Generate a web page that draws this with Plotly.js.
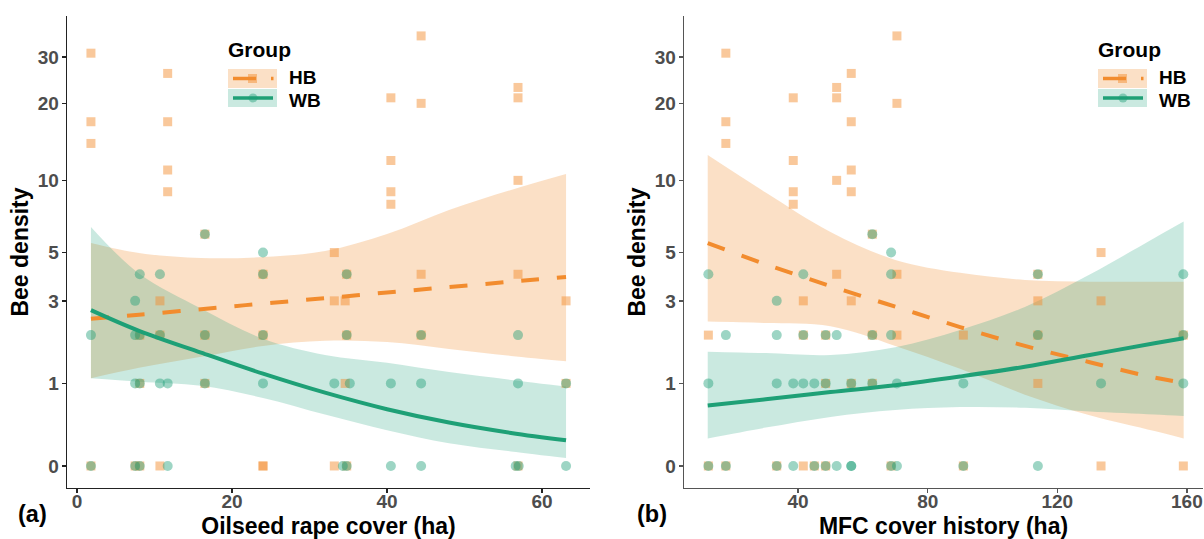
<!DOCTYPE html>
<html><head><meta charset="utf-8">
<script src="https://cdn.plot.ly/plotly-3.0.1.min.js"></script>
<style>html,body{margin:0;padding:0;background:#fff;} #chart{width:1204px;height:539px;}</style>
</head><body><div id="chart"></div>
<script>
// ---------- DATA ----------
const groups = ["HB", "WB"];
const yTickValues = [0, 1, 3, 5, 10, 20, 30];
const yTickLabels = ["0", "1", "3", "5", "10", "20", "30"];
const xTicksA = [0, 20, 40, 60];
const xTicksB = [40, 80, 120, 160];
const xTitleA = "Oilseed rape cover (ha)";
const xTitleB = "MFC cover history (ha)";
const yTitle = "Bee density";

// Panel (a) observations
const hbA_x = [1.8,1.8,1.8,1.8, 7.5, 8.1,8.1,8.1, 10.7,10.7,10.7, 11.7,11.7,11.7,11.7, 16.5,16.5,16.5, 24,24,24,24, 33.2,33.2,33.2, 34.6,34.6, 34.8,34.8,34.8, 40.5,40.5,40.5,40.5, 44.4,44.4,44.4,44.4, 56.9,56.9,56.9,56.9,56.9, 63.1,63.1];
const hbA_y = [31,17,14,0, 0, 2,1,0, 3,2,0, 26,17,11,9, 6,2,1, 4,2,0,0, 5,3,0, 3,1, 4,2,0, 21,12,9,8, 36,20,4,2, 23,21,10,4,0, 3,1];
const wbA_x = [1.8,1.8, 7.5,7.5,7.5,7.5, 8.1,8.1,8.1,8.1, 10.7,10.7,10.7, 11.7,11.7, 16.5,16.5,16.5, 24,24,24,24, 33.2, 34.3, 34.8,34.8,34.8, 35.2, 40.5,40.5, 44.4,44.4,44.4, 56.6, 56.9,56.9, 57.0, 63.1,63.1];
const wbA_y = [2,0, 3,2,1,0, 4,2,1,0, 4,2,1, 1,0, 6,2,1, 5,4,2,1, 1, 0, 4,2,0, 1, 1,0, 2,1,0, 0, 2,1, 0, 1,0];

// Panel (b) observations
const hbB_x = [12.3,12.3, 17.7,17.7,17.7,17.7, 33.4, 38.5,38.5,38.5,38.5, 41.6,41.6,41.6, 45, 48.5,48.5,48.5, 51.9,51.9,51.9,51.9, 56.4,56.4,56.4,56.4,56.4,56.4, 62.9,62.9,62.9, 68.7, 70.5,70.5,70.5,70.5, 91,91, 114,114,114,114, 133.5,133.5,133.5, 158.9,158.9];
const hbB_y = [2,0, 31,17,14,0, 0, 21,12,9,8, 3,2,0, 0, 2,1,0, 23,21,10,4, 26,17,11,9,3,1, 6,2,1, 0, 36,20,4,2, 2,0, 4,3,2,1, 5,3,0, 2,0];
const wbB_x = [12.3,12.3,12.3, 17.7,17.7, 33.4,33.4,33.4,33.4, 38.5,38.5, 41.6,41.6,41.6, 45,45, 48.5,48.5,48.5, 51.9,51.9, 56.4,56.4,56.4, 62.9,62.9,62.9, 68.7,68.7,68.7,68.7, 70.5,70.5, 91,91, 114,114,114, 133.5, 158.9,158.9,158.9];
const wbB_y = [4,1,0, 2,0, 3,2,1,0, 1,0, 4,2,1, 1,0, 2,1,0, 2,0, 1,0,0, 6,2,1, 5,4,2,0, 1,0, 1,0, 4,2,0, 1, 4,2,1];

// Panel (a) model fits (predicted density and 95% band)
const fitA_x   = [1.8, 8, 16, 24, 32, 40, 48, 56, 63.1];
const hbA_fit  = [2.44, 2.56, 2.73, 2.91, 3.09, 3.29, 3.49, 3.70, 3.89];
const hbA_hi   = [5.50, 4.98, 4.73, 4.78, 5.08, 6.01, 7.58, 9.15, 10.6];
const hbA_lo   = [1.09, 1.28, 1.50, 1.74, 1.86, 1.83, 1.67, 1.52, 1.41];
const wbA_fit  = [2.70, 2.11, 1.59, 1.17, 0.85, 0.61, 0.44, 0.32, 0.24];
const wbA_hi   = [6.44, 4.03, 2.75, 1.91, 1.54, 1.38, 1.20, 1.06, 0.95];
const wbA_lo   = [1.09, 1.03, 0.96, 0.77, 0.54, 0.35, 0.21, 0.13, 0.07];

// Panel (b) model fits
const fitB_x   = [12.1, 30, 50, 70, 90, 110, 130, 150, 159];
const hbB_fit  = [5.49, 4.44, 3.53, 2.81, 2.21, 1.74, 1.39, 1.10, 1.01];
const hbB_hi   = [12.6, 8.93, 6.13, 4.64, 4.06, 3.77, 3.70, 3.70, 3.70];
const hbB_lo   = [2.36, 2.32, 2.23, 1.74, 1.26, 0.82, 0.53, 0.34, 0.26];
const wbB_fit  = [0.66, 0.75, 0.86, 0.97, 1.12, 1.30, 1.54, 1.80, 1.92];
const wbB_hi   = [1.61, 1.58, 1.54, 1.71, 2.13, 2.80, 3.99, 5.78, 6.78];
const wbB_lo   = [0.26, 0.38, 0.51, 0.60, 0.64, 0.63, 0.58, 0.54, 0.52];

// ---------- STYLE ----------
const ORANGE = "rgb(242,140,46)";
const GREEN = "rgb(30,160,118)";
const ORANGE_FILL = "rgba(242,140,46,0.27)";
const GREEN_FILL = "rgba(27,158,119,0.23)";
const ORANGE_PT = "rgba(242,140,46,0.48)";
const GREEN_PT = "rgba(27,158,119,0.43)";
const FONT = "Liberation Sans, Arial, sans-serif";

const T = arr => arr.map(v => Math.log1p(v));

function panel(xa, ya, hb_x, hb_y, wb_x, wb_y, fx, hfit, hhi, hlo, wfit, whi, wlo) {
  const base = {xaxis: xa, yaxis: ya, showlegend: false, hoverinfo: "skip", type: "scatter"};
  const mk = o => Object.assign({}, base, o);
  return [
    mk({x: fx, y: T(hlo), mode: "lines", line: {width: 0, shape: "spline"}}),
    mk({x: fx, y: T(hhi), mode: "lines", line: {width: 0, shape: "spline"}, fill: "tonexty", fillcolor: ORANGE_FILL}),
    mk({x: fx, y: T(wlo), mode: "lines", line: {width: 0, shape: "spline"}}),
    mk({x: fx, y: T(whi), mode: "lines", line: {width: 0, shape: "spline"}, fill: "tonexty", fillcolor: GREEN_FILL}),
    mk({x: hb_x, y: T(hb_y), mode: "markers", name: groups[0], marker: {symbol: "square", size: 9, color: ORANGE_PT, line: {width: 0}}}),
    mk({x: wb_x, y: T(wb_y), mode: "markers", name: groups[1], marker: {symbol: "circle", size: 10, color: GREEN_PT, line: {width: 0}}}),
    mk({x: fx, y: T(hfit), mode: "lines", line: {color: ORANGE, width: 4, dash: "18px,18px", shape: "spline"}}),
    mk({x: fx, y: T(wfit), mode: "lines", line: {color: GREEN, width: 4, shape: "spline"}})
  ];
}

const traces = [].concat(
  panel("x", "y", hbA_x, hbA_y, wbA_x, wbA_y, fitA_x, hbA_fit, hbA_hi, hbA_lo, wbA_fit, wbA_hi, wbA_lo),
  panel("x2", "y2", hbB_x, hbB_y, wbB_x, wbB_y, fitB_x, hbB_fit, hbB_hi, hbB_lo, wbB_fit, wbB_hi, wbB_lo)
);

// ---------- LAYOUT ----------
const W = 1204, H = 539;
const px = v => v / W;
const py = v => 1 - v / H;
const yDomain = [py(488), py(16)];
const yRange = [-0.185, 3.778];
const TICKFONT = {family: FONT, size: 19, color: "#4d4d4d", weight: "bold"};
const TITLEFONT = {family: FONT, size: 23, color: "#000", weight: "bold"};

function xAxis(domain, range, ticks, title, lineColor) {
  return {
    domain: domain, range: range, tickvals: ticks, ticktext: ticks.map(String),
    showline: true, linecolor: lineColor, linewidth: 1.4, ticks: "outside", ticklen: 4, tickwidth: 1.3, tickcolor: lineColor,
    ticklabelstandoff: -8,
    showgrid: false, zeroline: false, automargin: false,
    tickfont: TICKFONT,
    title: {text: title, font: TITLEFONT, standoff: 12}
  };
}
function yAxis(anchor, lineColor) {
  return {
    anchor: anchor, domain: yDomain, range: yRange,
    tickvals: T(yTickValues), ticktext: yTickLabels,
    showline: true, linecolor: lineColor, linewidth: 1.4, ticks: "outside", ticklen: 4, tickwidth: 1.3, tickcolor: lineColor,
    ticklabelstandoff: -1,
    showgrid: false, zeroline: false, automargin: false,
    tickfont: TICKFONT,
    title: {text: yTitle, font: TITLEFONT, standoff: 2}
  };
}

const shapes = [];
const annotations = [];
function legendAt(dx) {
  const ann = (x, y, t, size) => annotations.push({xref: "paper", yref: "paper", x: px(x + dx), y: py(y), text: t, showarrow: false, xanchor: "left", yanchor: "middle", font: {family: FONT, size: size, color: "#000", weight: "bold"}});
  ann(226, 49, "Group", 21);
  const rect = (x0, y0, x1, y1, fill, type) => shapes.push({type: type || "rect", xref: "paper", yref: "paper", x0: px(x0 + dx), x1: px(x1 + dx), y0: py(y1), y1: py(y0), fillcolor: fill, line: {width: 0}, layer: "above"});
  const seg = (x0, x1, y, color) => shapes.push({type: "line", xref: "paper", yref: "paper", x0: px(x0 + dx), x1: px(x1 + dx), y0: py(y), y1: py(y), line: {color: color, width: 3.5}, layer: "above"});
  rect(228, 69, 277, 88, ORANGE_FILL);
  rect(228, 89, 277, 107, GREEN_FILL);
  seg(233, 256, 78.5, ORANGE);
  seg(271, 273.5, 78.5, ORANGE);
  rect(248, 74, 257, 83, ORANGE_PT);
  seg(233, 273, 98, GREEN);
  rect(248.5, 93.5, 257.5, 102.5, GREEN_PT, "circle");
  ann(287, 77.5, groups[0], 19);
  ann(287, 100, groups[1], 19);
}
legendAt(0);
legendAt(870);

[["(a)", 32], ["(b)", 652]].forEach(([t, x]) => annotations.push({
  xref: "paper", yref: "paper", x: px(x), y: py(514), text: t, showarrow: false, xanchor: "center", yanchor: "middle",
  font: {family: FONT, size: 23.5, color: "#000", weight: "bold"}
}));

const layout = {
  width: W, height: H,
  margin: {l: 0, r: 0, t: 0, b: 0},
  paper_bgcolor: "#fff", plot_bgcolor: "rgba(0,0,0,0)",
  showlegend: false,
  xaxis: Object.assign(xAxis([px(67), px(590)], [-1.29, 66.19], xTicksA, xTitleA, "#222"), {anchor: "y"}),
  yaxis: yAxis("x", "#222"),
  xaxis2: Object.assign(xAxis([px(684), px(1203)], [4.78, 164.97], xTicksB, xTitleB, "#555"), {anchor: "y2"}),
  yaxis2: yAxis("x2", "#555"),
  shapes: shapes,
  annotations: annotations
};

Plotly.newPlot("chart", traces, layout, {staticPlot: true, displayModeBar: false});
</script></body></html>
